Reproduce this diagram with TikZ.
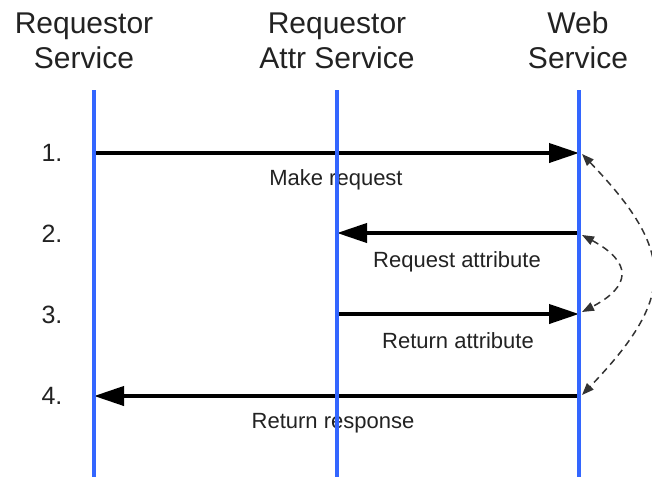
\documentclass[tikz,border=0pt]{standalone}
\usepackage{fontspec}
\setmainfont{Liberation Sans}
\usetikzlibrary{arrows.meta}
\definecolor{lifeblue}{HTML}{3366FF}
\definecolor{txt}{HTML}{222222}
\definecolor{dashc}{HTML}{333333}
\begin{document}
\begin{tikzpicture}[x=1pt,y=-1pt,
  head/.style={font=\fontsize{30}{30}\selectfont,text=txt,inner sep=0pt,anchor=base},
  num/.style={font=\fontsize{25}{25}\selectfont,text=txt,inner sep=0pt,anchor=base},
  lbl/.style={font=\fontsize{22}{22}\selectfont,text=txt,inner sep=0pt,anchor=base},
  lifeline/.style={draw=lifeblue,line width=4pt},
  msg/.style={draw=black,line width=4pt,-{Triangle[length=30pt,width=19pt]}},
  flow/.style={draw=dashc,line width=1.5pt,dash pattern=on 7pt off 5pt,
    {Triangle[length=12pt,width=9pt]}-{Triangle[length=12pt,width=9pt]}}]
\useasboundingbox (0,0) rectangle (652,477);
\clip (0,0) rectangle (652,477);
% headers
\node[head] (h1a) at (84,33) {Requestor};
\node[head] (h1b) at (84,68) {Service};
\node[head] (h2a) at (337,33) {Requestor};
\node[head] (h2b) at (337,68) {Attr Service};
\node[head] (h3a) at (578,33) {Web};
\node[head] (h3b) at (578,68) {Service};
% lifeline ends
\coordinate (t1) at (94,90);  \coordinate (b1) at (94,477);
\coordinate (t2) at (337,90); \coordinate (b2) at (337,477);
\coordinate (t3) at (579,90); \coordinate (b3) at (579,477);
% message points
\coordinate (m1s) at (94,153);  \coordinate (m1e) at (579,153);
\coordinate (m2s) at (579,233); \coordinate (m2e) at (337,233);
\coordinate (m3s) at (337,314); \coordinate (m3e) at (579,314);
\coordinate (m4s) at (579,396); \coordinate (m4e) at (94,396);
% numbers
\node[num] (n1) at (52,161) {1.};
\node[num] (n2) at (52,242) {2.};
\node[num] (n3) at (52,323) {3.};
\node[num] (n4) at (52,404) {4.};
% labels
\node[lbl] (l1) at (336,185) {Make request};
\node[lbl] (l2) at (457,267) {Request attribute};
\node[lbl] (l3) at (458,348) {Return attribute};
\node[lbl] (l4) at (333,428) {Return response};
% messages
\draw[msg] (m1s) -- (m1e);
\draw[msg] (m2s) -- (m2e);
\draw[msg] (m3s) -- (m3e);
\draw[msg] (m4s) -- (m4e);
% dashed flow curves
\coordinate (d1) at (582,154);
\coordinate (d4) at (582,395);
\coordinate (d2) at (582,235);
\coordinate (d3) at (582,312);
\draw[flow] (d1) .. controls (676,252) and (676,297) .. (d4);
\draw[flow] (d2) .. controls (632,262) and (632,286) .. (d3);
% lifelines
\draw[lifeline] (t1) -- (b1);
\draw[lifeline] (t2) -- (b2);
\draw[lifeline] (t3) -- (b3);
\end{tikzpicture}
\end{document}
